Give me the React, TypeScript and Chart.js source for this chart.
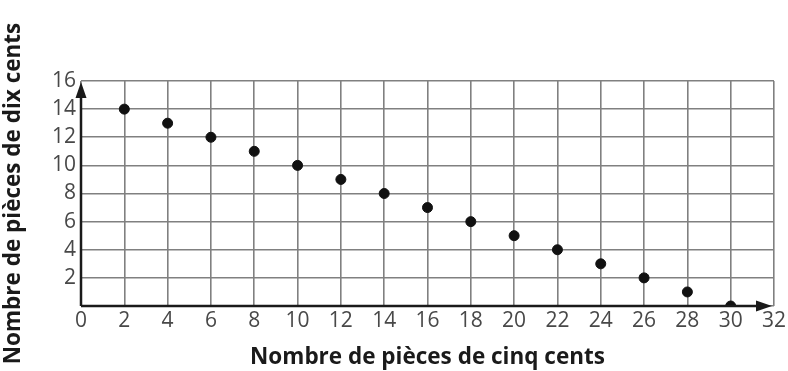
import React, { useEffect, useRef } from "react";
import { Chart, registerables } from "chart.js";

Chart.register(...registerables);

const nickels = [2, 4, 6, 8, 10, 12, 14, 16, 18, 20, 22, 24, 26, 28, 30];
const dimes = [14, 13, 12, 11, 10, 9, 8, 7, 6, 5, 4, 3, 2, 1, 0];
const xTitle = "Nombre de pièces de cinq cents";
const yTitle = "Nombre de pièces de dix cents";

const tickFont = { family: "'Open Sans', sans-serif", size: 21, weight: "normal" as const };

const arrowPlugin = {
  id: "arrows",
  afterDatasetsDraw(chart: any) {
    const { ctx, chartArea, scales } = chart;
    const x0 = scales.x.getPixelForValue(0);
    const y0 = scales.y.getPixelForValue(0);
    const yTop = scales.y.getPixelForValue(16);
    const xEnd = chartArea.right - 2;
    ctx.save();
    ctx.strokeStyle = "#1a1a1a";
    ctx.fillStyle = "#1a1a1a";
    ctx.lineWidth = 2.5;
    ctx.beginPath();
    ctx.moveTo(x0, y0);
    ctx.lineTo(x0, yTop + 10);
    ctx.moveTo(x0, y0);
    ctx.lineTo(xEnd - 10, y0);
    ctx.stroke();
    ctx.beginPath();
    ctx.moveTo(x0, yTop + 1);
    ctx.lineTo(x0 - 5.5, yTop + 17);
    ctx.lineTo(x0 + 5.5, yTop + 17);
    ctx.closePath();
    ctx.fill();
    ctx.beginPath();
    ctx.moveTo(xEnd, y0);
    ctx.lineTo(xEnd - 16, y0 - 5.5);
    ctx.lineTo(xEnd - 16, y0 + 5.5);
    ctx.closePath();
    ctx.fill();
    ctx.restore();
  },
};

export default function App() {
  const ref = useRef<HTMLCanvasElement>(null);
  useEffect(() => {
    document.body.style.margin = "0";
    const chart = new Chart(ref.current!, {
      type: "scatter",
      data: {
        datasets: [
          {
            data: nickels.map((x, i) => ({ x, y: dimes[i] })),
            backgroundColor: "#111",
            borderColor: "#111",
            pointRadius: 5,
            pointHoverRadius: 5,
          },
        ],
      },
      options: {
        animation: false,
        responsive: false,
        layout: { padding: { top: 81, right: 14, left: 0, bottom: 0 } },
        plugins: { legend: { display: false }, tooltip: { enabled: false } },
        scales: {
          x: {
            type: "linear",
            min: 0,
            max: 32,
            ticks: {
              stepSize: 2,
              color: "#484848",
              font: tickFont,
              padding: 2,
              maxRotation: 0,
              autoSkip: false,
            },
            grid: { color: "#808080", lineWidth: 1.6, drawTicks: false },
            border: { display: false },
            title: {
              display: true,
              text: xTitle,
              color: "#1a1a1a",
              font: { family: "'Open Sans', sans-serif", size: 22.5, weight: "bold" },
              padding: { top: 0, bottom: 0 },
            },
            afterFit: (s: any) => {
              s.height = 65;
            },
          },
          y: {
            type: "linear",
            min: 0,
            max: 16,
            ticks: {
              stepSize: 2,
              color: "#484848",
              font: tickFont,
              padding: 5,
              autoSkip: false,
              callback: (v: any) => (v === 0 ? "" : String(v)),
            },
            grid: { color: "#808080", lineWidth: 1.6, drawTicks: false },
            border: { display: false },
            title: {
              display: true,
              text: yTitle,
              color: "#1a1a1a",
              font: { family: "'Open Sans', sans-serif", size: 22.5, weight: "bold" },
              padding: { top: 0, bottom: 0 },
            },
            afterFit: (s: any) => {
              s.width = 81;
            },
          },
        },
      },
      plugins: [arrowPlugin],
    });
    return () => chart.destroy();
  }, []);
  return (
    <div style={{ position: "fixed", left: 0, top: 0, width: 788, height: 371, background: "#fff" }}>
      <canvas ref={ref} width={788} height={371} />
    </div>
  );
}
